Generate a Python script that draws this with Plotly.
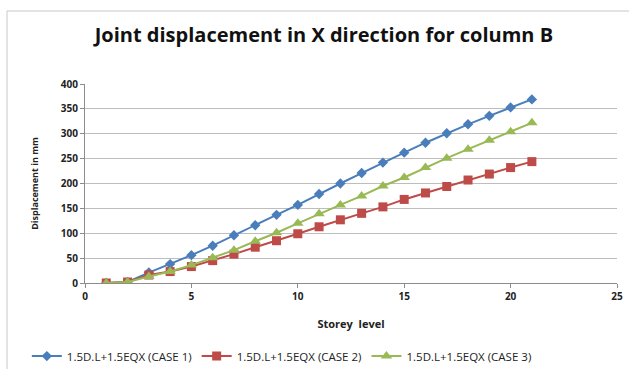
import plotly.graph_objects as go

storey = list(range(1, 22))
case1 = [0, 2, 21, 38, 56, 75, 96, 116, 137, 157, 179, 200, 221, 242, 262, 282, 301, 319, 336, 353, 369]
case2 = [0, 2, 16, 23, 33, 45, 58, 72, 85, 99, 113, 127, 140, 153, 168, 181, 194, 207, 219, 232, 244]
case3 = [0, 2, 13, 23, 36, 51, 66, 84, 101, 120, 139, 157, 175, 195, 212, 232, 251, 269, 287, 304, 322]

names = ["1.5D.L+1.5EQX (CASE 1)", "1.5D.L+1.5EQX (CASE 2)", "1.5D.L+1.5EQX (CASE 3)"]
colors = ["#4A7EBB", "#BE4B48", "#98B954"]
symbols = ["diamond", "square", "triangle-up"]
sizes = [8, 9, 10]

fig = go.Figure()
for vals, name, col, sym, sz in zip([case1, case2, case3], names, colors, symbols, sizes):
    fig.add_trace(go.Scatter(
        x=storey, y=vals, name=name, mode="lines+markers",
        line=dict(color=col, width=2),
        marker=dict(symbol=sym, size=sz, color=col),
    ))

font_family = "Open Sans, Liberation Sans, sans-serif"
tick_font = dict(family=font_family, size=10, color="#222222", weight="bold")

fig.update_layout(
    width=629, height=369,
    margin=dict(l=85, r=12, t=84, b=86, autoexpand=False),
    paper_bgcolor="white", plot_bgcolor="white",
    title=dict(text="<b>Joint displacement in X direction for column B</b>",
               x=0.515, xanchor="center", y=0.905, yanchor="middle",
               font=dict(family=font_family, size=20, color="#111111")),
    showlegend=True,
    legend=dict(orientation="h", x=0.37, xanchor="center",
                yref="container", y=0.035, yanchor="middle",
                font=dict(family=font_family, size=11.5, color="#222222"),
                itemwidth=30, tracegroupgap=0),
    xaxis=dict(range=[0, 25], dtick=5, showgrid=False, zeroline=False,
               automargin=False,
               showline=True, linecolor="#8C8C8C", linewidth=1,
               ticks="outside", ticklen=4, tickcolor="#8C8C8C",
               tickfont=tick_font,
               title=dict(text="<b>Storey  level</b>", standoff=18,
                          font=dict(family=font_family, size=11, color="#222222"))),
    yaxis=dict(range=[0, 400], dtick=50, showgrid=True, gridcolor="#BDBDBD",
               gridwidth=1, zeroline=False, automargin=False,
               showline=True, linecolor="#8C8C8C", linewidth=1,
               ticks="outside", ticklen=4, tickcolor="#8C8C8C",
               tickfont=tick_font,
               title=dict(text="<b>Displacement in mm</b>", standoff=20,
                          font=dict(family=font_family, size=9, color="#222222"))),
)

# outer chart frame
fig.add_shape(type="rect", xref="paper", yref="paper",
              x0=-0.1466, x1=1.2, y0=-0.6, y1=1.3668,
              line=dict(color="#C8C8C8", width=1), layer="below")

fig.write_html("out.html")
